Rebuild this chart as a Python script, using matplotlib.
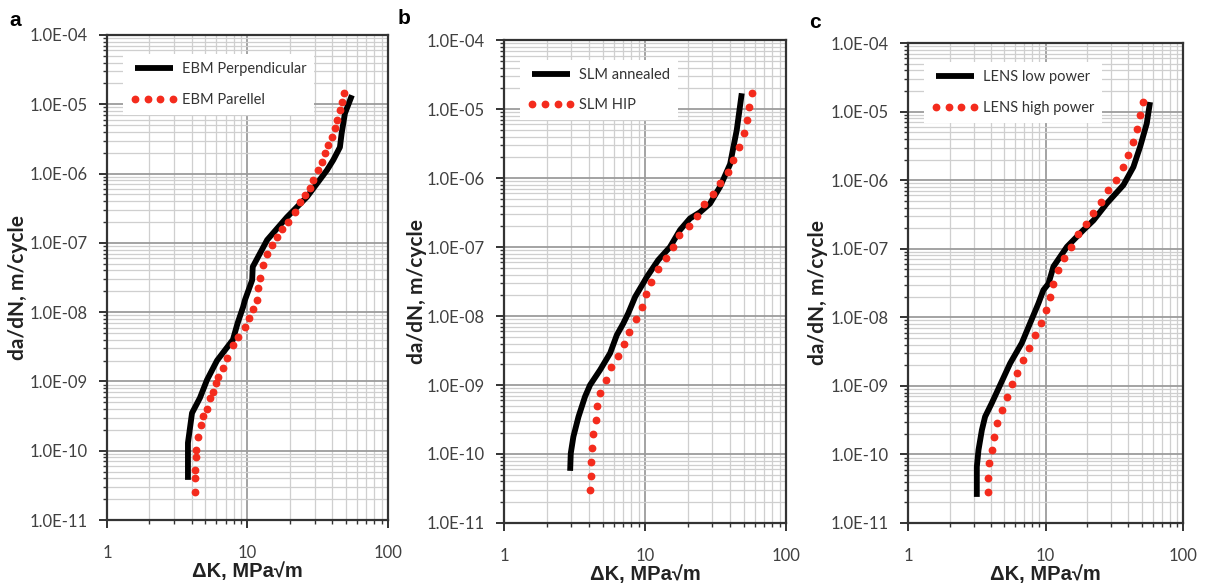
import matplotlib
matplotlib.use("Agg")
import matplotlib.pyplot as plt
import numpy as np
from matplotlib.ticker import LogLocator, FixedLocator, FuncFormatter, NullFormatter

# ---- panel a: EBM ----
a_black_k = [3.77, 3.77, 4.03, 4.59, 5.15, 6.07, 7.88, 8.5, 9.3, 9.6, 10.8, 10.9, 13.8, 19.1, 26.5, 36.8, 40.8, 45.5,
             46.8, 49.4, 55.4]
a_black_da = [3.8e-11, 1.3e-10, 3.5e-10, 5.8e-10, 1.05e-9, 2.0e-9, 4e-9, 6.9e-9, 1.18e-8, 1.5e-8, 2.9e-8, 4.5e-8,
              1.1e-7, 2.35e-7, 4.6e-7, 1.12e-6, 1.57e-6, 2.4e-6, 3.8e-6, 7.4e-6, 1.35e-5]
a_red_k = [4.23, 4.23, 4.25, 4.27, 4.27, 4.47, 4.67, 4.85, 5.12, 5.41, 5.71, 5.97, 6.2, 6.66, 7.11, 7.93, 8.6, 9.6, 10.3,
           11.0, 11.6, 11.9, 12.3, 13.0, 13.7, 14.9, 16.1, 17.5, 19.5, 21.8, 23.6, 25.7, 27.8, 29.4, 31.9, 33.7, 35.6,
           37.6, 39.7, 42.0, 43.6, 45.5, 46.8, 48.6]
a_red_da = [2.5e-11, 4.0e-11, 5.3e-11, 8.1e-11, 1.02e-10, 1.6e-10, 2.35e-10, 3.2e-10, 4e-10, 5.8e-10, 7.1e-10, 9.5e-10,
            1.17e-9, 1.58e-9, 2.2e-9, 3.35e-9, 4.4e-9, 6.2e-9, 8.3e-9, 1.1e-8, 1.5e-8, 2.2e-8, 3.1e-8, 4.8e-8, 7e-8,
            9.3e-8, 1.23e-7, 1.56e-7, 2.0e-7, 2.8e-7, 3.9e-7, 4.9e-7, 6.1e-7, 8.1e-7, 1.12e-6, 1.48e-6, 1.95e-6,
            2.57e-6, 3.4e-6, 4.5e-6, 6.0e-6, 8.2e-6, 1.09e-5, 1.47e-5]

# ---- panel b: SLM ----
b_black_k = [2.94, 2.97, 3.1, 3.37, 3.75, 4.07, 4.8, 5.65, 6.3, 7.0, 7.6, 8.5, 9.7, 10.3, 12.4, 15.0, 17.7, 20.8, 24.5,
             28.9, 34.0, 40.1, 44.7, 48.5]
b_black_da = [5.7e-11, 1.02e-10, 1.78e-10, 3.47e-10, 6.8e-10, 1e-9, 1.66e-9, 2.9e-9, 5.3e-9, 7.8e-9, 1.1e-8, 1.9e-8,
              3.0e-8, 3.7e-8, 6.5e-8, 1.0e-7, 1.77e-7, 2.6e-7, 3.2e-7, 4.3e-7, 7.5e-7, 1.6e-6, 5e-6, 1.7e-5]
b_red_k = [4.07, 4.12, 4.12, 4.19, 4.26, 4.49, 4.59, 4.79, 5.26, 5.74, 6.47, 7.1, 7.74, 8.6, 9.47, 10.1, 11.0, 12.4,
           14.0, 15.7, 17.5, 20.5, 23.3, 26.2, 30.2, 34.0, 38.6, 42.3, 46.4, 50.4, 52.6, 54.9, 57.1]
b_red_da = [3.0e-11, 4.8e-11, 7.7e-11, 1.24e-10, 1.95e-10, 3.1e-10, 5e-10, 7.7e-10, 1.18e-9, 1.8e-9, 2.63e-9, 3.9e-9,
            5.9e-9, 9e-9, 1.36e-8, 2.1e-8, 3.1e-8, 4.75e-8, 6.9e-8, 9.9e-8, 1.48e-7, 2.0e-7, 2.8e-7, 4.2e-7, 5.9e-7,
            8.5e-7, 1.23e-6, 1.86e-6, 2.84e-6, 4.45e-6, 6.9e-6, 1.07e-5, 1.73e-5]

# ---- panel c: LENS ----
c_black_k = [3.16, 3.16, 3.25, 3.44, 3.63, 4.06, 4.67, 5.52, 6.71, 7.71, 8.87, 9.64, 10.5, 11.4, 14.3, 18.8, 22.3, 27.9,
             36.8, 43.5, 48.7, 54.4, 57.5]
c_black_da = [2.4e-11, 6.6e-11, 1.16e-10, 2.27e-10, 3.55e-10, 5.6e-10, 1.03e-9, 2.13e-9, 4.2e-9, 8.2e-9, 1.6e-8, 2.5e-8,
              3.1e-8, 5.5e-8, 1.07e-7, 1.87e-7, 2.6e-7, 4.6e-7, 8.5e-7, 1.56e-6, 3.08e-6, 6.7e-6, 1.38e-5]
c_red_k = [3.84, 3.84, 3.86, 4.06, 4.24, 4.46, 4.8, 5.22, 5.68, 6.24, 6.9, 7.63, 8.44, 9.22, 10.0, 10.7, 11.4, 12.3,
           13.7, 15.3, 17.3, 19.6, 22.3, 25.3, 28.6, 32.6, 36.4, 40.0, 43.0, 46.0, 48.7, 51.4]
c_red_da = [2.86e-11, 4.5e-11, 7.4e-11, 1.16e-10, 1.81e-10, 2.84e-10, 4.4e-10, 6.9e-10, 1.05e-9, 1.55e-9, 2.38e-9,
            3.6e-9, 5.45e-9, 8.3e-9, 1.27e-8, 2.0e-8, 3.1e-8, 4.9e-8, 7.4e-8, 1.07e-7, 1.62e-7, 2.29e-7, 3.38e-7,
            4.8e-7, 7.1e-7, 1.0e-6, 1.56e-6, 2.3e-6, 3.6e-6, 5.67e-6, 8.9e-6, 1.39e-5]

panel_letters = ["a", "b", "c"]
black_labels = ["EBM Perpendicular", "SLM annealed", "LENS low power"]
red_labels = ["EBM Parellel", "SLM HIP", "LENS high power"]

RED = "#f42b1d"
TICK_FONT = ["Lato", "DejaVu Sans"]
BOLD_FONT = ["Liberation Sans", "DejaVu Sans"]

fig = plt.figure(figsize=(12.06, 5.83), dpi=100)

# axes rectangles in figure fractions (left, bottom, width, height)
rects = [
    (0.0887, 0.108, 0.2330, 0.832),
    (0.4180, 0.103, 0.2338, 0.828),
    (0.7530, 0.103, 0.2280, 0.823),
]
ylabel_x = [-0.28, -0.272, -0.292]
letter_pos = [(0.008, 0.965), (0.330, 0.968), (0.671, 0.962)]

series = [
    (a_black_k, a_black_da, a_red_k, a_red_da),
    (b_black_k, b_black_da, b_red_k, b_red_da),
    (c_black_k, c_black_da, c_red_k, c_red_da),
]

for i, rect in enumerate(rects):
    ax = fig.add_axes(rect)
    bk, bd, rk, rd = series[i]
    ax.plot(bk, bd, color="black", lw=4.2, solid_capstyle="butt", label=black_labels[i], zorder=3)
    ax.plot(rk, rd, linestyle="none", marker="o", ms=4.6, color=RED, mec=RED,
            label=red_labels[i], zorder=4)

    ax.set_xscale("log")
    ax.set_yscale("log")
    ax.set_xlim(1, 100)
    ax.set_ylim(1e-11, 1e-4)

    ax.yaxis.set_major_locator(FixedLocator([10.0 ** e for e in range(-11, -3)]))
    ax.yaxis.set_minor_locator(LogLocator(base=10, subs=np.arange(2, 10), numticks=20))
    ax.yaxis.set_major_formatter(FuncFormatter(lambda v, p: f"{v:.1E}"))
    ax.yaxis.set_minor_formatter(NullFormatter())
    ax.xaxis.set_major_locator(FixedLocator([1, 10, 100]))
    ax.xaxis.set_minor_locator(LogLocator(base=10, subs=np.arange(2, 10), numticks=10))
    ax.xaxis.set_major_formatter(FuncFormatter(lambda v, p: f"{v:g}"))
    ax.xaxis.set_minor_formatter(NullFormatter())

    ax.grid(True, which="major", color="#9c9c9c", lw=1.3, zorder=0)
    ax.grid(True, which="minor", color="#cfcfcf", lw=0.9, zorder=0)
    ax.set_axisbelow(True)

    for sp in ax.spines.values():
        sp.set_color("#333333")
        sp.set_linewidth(1.6)

    ax.tick_params(which="major", direction="out", length=6, width=1.4, color="#333333",
                   labelsize=12, labelcolor="#404040", pad=8)
    ax.tick_params(which="minor", direction="out", length=3, width=1.0, color="#333333")
    ax.tick_params(axis="x", which="major", pad=12)
    for lab in ax.get_xticklabels() + ax.get_yticklabels():
        lab.set_family(TICK_FONT)

    ax.set_ylabel("da/dN, m/cycle", fontsize=15, fontweight="bold", family=["Lato", "DejaVu Sans"],
                  color="#222222")
    ax.yaxis.set_label_coords(ylabel_x[i], 0.48)
    ax.set_xlabel("\u0394K, MPa\u221am", fontsize=14.5, fontweight="bold", family=BOLD_FONT,
                  color="#222222", labelpad=1)

    leg = ax.legend(loc="upper left", bbox_to_anchor=(0.03, 0.975), numpoints=4, handlelength=3.2,
                    handletextpad=0.3, labelspacing=1.15, borderpad=0.55,
                    frameon=True, fancybox=False, framealpha=1.0, edgecolor="none",
                    prop={"family": TICK_FONT, "size": 10.5})
    leg.get_frame().set_facecolor("white")
    for t in leg.get_texts():
        t.set_color("#333333")

    fig.text(letter_pos[i][0], letter_pos[i][1], panel_letters[i], fontsize=15, fontweight="bold",
             family=BOLD_FONT, ha="left", va="center")

fig.savefig("out.png", dpi=100)
